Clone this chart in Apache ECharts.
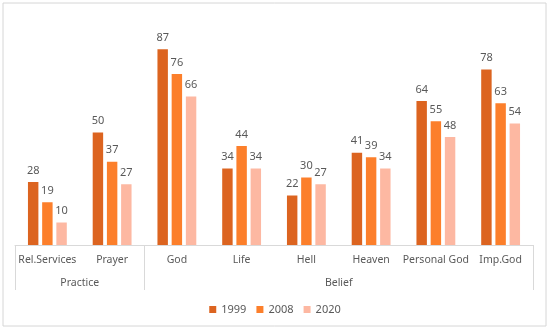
<!DOCTYPE html>
<html><head><meta charset="utf-8">
<script src="https://cdn.jsdelivr.net/npm/echarts@6/dist/echarts.min.js"></script>
<style>html,body{margin:0;padding:0;background:#fff}#c{width:550px;height:330px}</style>
</head><body><div id="c"></div>
<script>
const categories = ['Rel.Services','Prayer','God','Life','Hell','Heaven','Personal God','Imp.God'];
const groupNames = ['Practice','Belief'];
const groupCenters = [1, 5];
const groupBounds = [0, 2, 8];
const seriesNames = ['1999','2008','2020'];
const v1999 = [28,50,87,34,22,41,64,78];
const v2008 = [19,37,76,44,30,39,55,63];
const v2020 = [10,27,66,34,27,34,48,54];
const colors = ['#DC6420','#FC7F2B','#FDB8A2'];
const font = 'Noto Sans';
const chart = echarts.init(document.getElementById('c'));
const mk = (name, data, i) => ({
  name, type:'bar', data, xAxisIndex:0, yAxisIndex:0,
  itemStyle:{color:colors[i]},
  barGap:'36%', barCategoryGap:'40%',
  label:{show:true, position:'top', distance:6, color:'#595959', fontSize:11, fontFamily:font}
});
chart.setOption({
  animation:false,
  graphic:[{type:'rect', shape:{x:3,y:3,width:543,height:323}, style:{fill:'none', stroke:'#D6D6D6', lineWidth:1}}],
  grid:{left:15, right:17, top:20, bottom:85},
  legend:{data:seriesNames, bottom:10, left:'center', itemWidth:7, itemHeight:7, itemGap:10,
    icon:'rect', textStyle:{color:'#595959', fontSize:11, fontFamily:font}},
  xAxis:[
    {type:'category', data:categories, axisLine:{lineStyle:{color:'#D9D9D9'}}, axisTick:{show:false},
     axisLabel:{color:'#595959', fontSize:10.5, fontFamily:font, margin:10, interval:0}},
    {type:'value', min:0, max:8, position:'bottom', splitLine:{show:false}, axisLine:{show:false},
     axisTick:{show:true, customValues:groupBounds, length:45, lineStyle:{color:'#D9D9D9'}},
     axisLabel:{customValues:groupCenters, margin:33, color:'#595959', fontSize:10.5, fontFamily:font,
       formatter:(v)=>groupNames[groupCenters.indexOf(v)]}}
  ],
  yAxis:{type:'value', min:0, max:100, show:false, splitLine:{show:false}},
  series:[mk(seriesNames[0], v1999, 0), mk(seriesNames[1], v2008, 1), mk(seriesNames[2], v2020, 2)]
});
</script></body></html>
